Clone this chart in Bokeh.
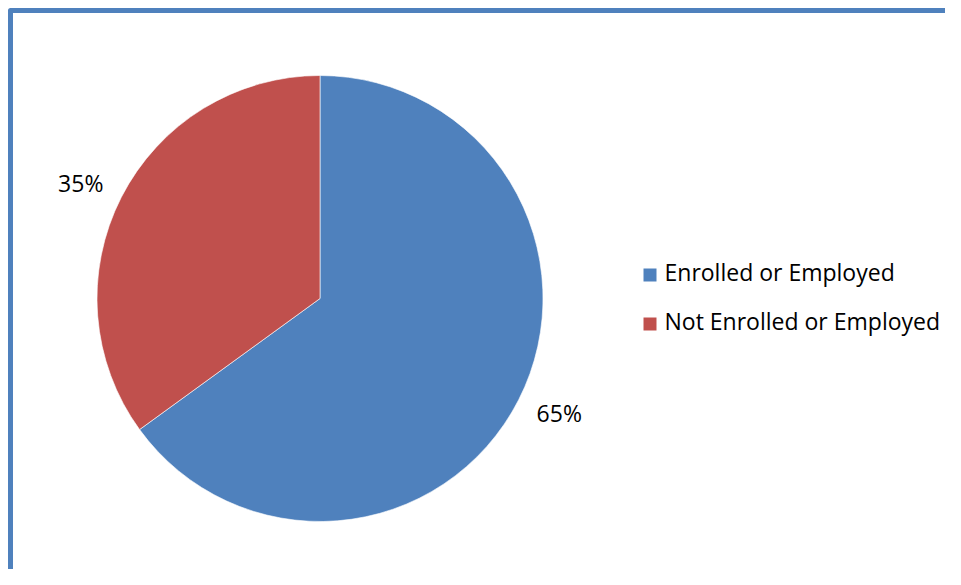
import numpy as np
from bokeh.plotting import figure
from bokeh.models import Range1d
from bokeh.core.properties import value
from bokeh.embed import file_html
from bokeh.resources import INLINE

categories = ["Enrolled or Employed", "Not Enrolled or Employed"]
shares = [65, 35]
colors = ["#4F81BD", "#C0504D"]

W, H = 945, 569
p = figure(width=W, height=H, output_backend="svg", toolbar_location=None,
           x_range=Range1d(0, W), y_range=Range1d(0, H),
           min_border=0, outline_line_color=None, background_fill_color="white",
           border_fill_color="white")
p.axis.visible = False
p.grid.visible = False

def Y(py):
    return H - py

FONT = "Open Sans"
FS = "23px"

# frame
p.line([10, 10, 960], [Y(600), Y(10), Y(10)], line_color="#4F81BD", line_width=5,
       line_join="round", line_cap="round")

# pie
cx, cy, r = 319.5, Y(298), 223
fr = np.array(shares, dtype=float) / sum(shares)
ends = np.pi / 2 - np.concatenate([[0], np.cumsum(fr)[:-1]]) * 2 * np.pi
starts = ends - fr * 2 * np.pi
p.wedge(x=cx, y=cy, radius=r, start_angle=starts, end_angle=ends,
        direction="anticlock", fill_color=colors, line_color="white",
        line_alpha=0.6, line_width=1)

# data labels
mids = (starts + ends) / 2 + np.deg2rad(1.3)
lr = 265.5
lx = cx + lr * np.cos(mids)
ly = cy + lr * np.sin(mids) + 0.5
p.text(x=lx, y=ly, text=[f"{s}%" for s in shares], text_align="center",
       text_baseline="middle", text_font=value(FONT), text_font_size=FS,
       text_color="#000000")

# legend
lgx, lgy0, step = 649.5, Y(274.5), 49
for i, (c, col) in enumerate(zip(categories, colors)):
    yy = lgy0 - i * step
    p.rect(x=[lgx], y=[yy], width=13, height=13, fill_color=col, line_color=None)
    p.text(x=[664], y=[yy + 3], text=[c], text_align="left", text_baseline="middle",
           text_font=value(FONT), text_font_size=FS, text_color="#000000")

open("out.html", "w").write(file_html(p, INLINE))
